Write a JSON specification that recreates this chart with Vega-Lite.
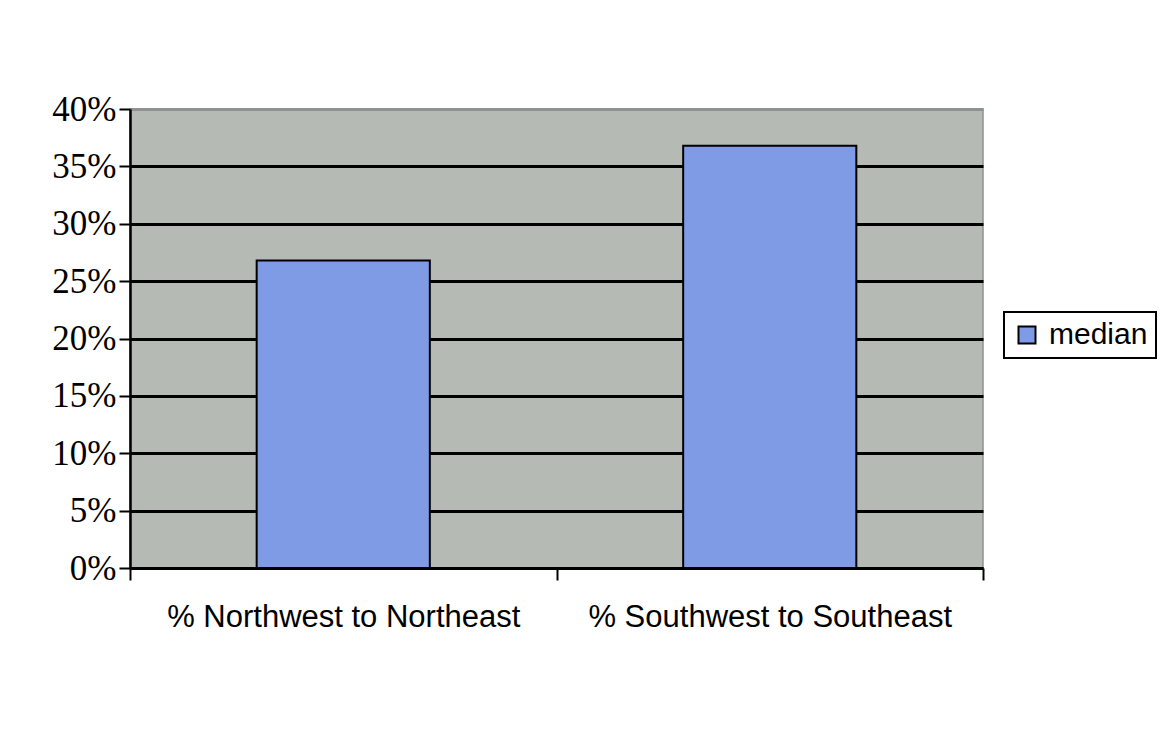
{
  "$schema": "https://vega.github.io/schema/vega-lite/v6.json",
  "width": 853,
  "height": 459,
  "autosize": {"type": "none"},
  "padding": {"left": 130, "top": 109, "right": 179, "bottom": 169},
  "background": "white",
  "data": {
    "values": [
      {"direction": "% Northwest to Northeast", "series": "median", "value": 0.268},
      {"direction": "% Southwest to Southeast", "series": "median", "value": 0.368}
    ]
  },
  "mark": {"type": "bar", "stroke": "black", "strokeWidth": 2, "width": {"band": 0.406}},
  "encoding": {
    "x": {
      "field": "direction",
      "type": "nominal",
      "sort": null,
      "title": null,
      "scale": {"paddingInner": 0, "paddingOuter": 0},
      "axis": {
        "labelAngle": 0,
        "labelFont": "Liberation Sans",
        "labelFontSize": 31,
        "labelColor": "black",
        "labelPadding": 22,
        "labelLimit": 0,
        "tickBand": "extent",
        "tickSize": 12,
        "tickWidth": 2,
        "tickColor": "black",
        "domainColor": "black",
        "domainWidth": 2.5,
        "grid": false
      }
    },
    "y": {
      "field": "value",
      "type": "quantitative",
      "title": null,
      "scale": {"domain": [0, 0.4], "nice": false},
      "axis": {
        "values": [0, 0.05, 0.1, 0.15, 0.2, 0.25, 0.3, 0.35, 0.4],
        "format": ".0%",
        "labelFont": "Liberation Serif",
        "labelFontSize": 35,
        "labelColor": "black",
        "labelPadding": 3,
        "labelLimit": 0,
        "tickSize": 11,
        "tickWidth": 2,
        "tickColor": "black",
        "domainColor": "black",
        "domainWidth": 2.5,
        "grid": true,
        "gridColor": {"condition": {"test": "datum.value >= 0.4", "value": "#8e938f"}, "value": "black"},
        "gridWidth": 2.8,
        "gridOpacity": 1
      }
    },
    "color": {
      "field": "series",
      "type": "nominal",
      "scale": {"range": ["#7f9be6"]},
      "legend": {
        "title": null,
        "orient": "none",
        "legendX": 874,
        "legendY": 203,
        "strokeColor": "black",
        "fillColor": "white",
        "padding": 8,
        "symbolType": "square",
        "symbolSize": 289,
        "symbolStrokeColor": "black",
        "symbolStrokeWidth": 2,
        "symbolOpacity": 1,
        "labelFont": "Liberation Sans",
        "labelFontSize": 30,
        "labelColor": "black",
        "labelOffset": 7,
        "encode": {"legend": {"update": {"strokeWidth": {"value": 2}}}}
      }
    }
  },
  "config": {
    "view": {"fill": "#b5bab5", "stroke": "#8e938f", "strokeWidth": 1.5}
  }
}
